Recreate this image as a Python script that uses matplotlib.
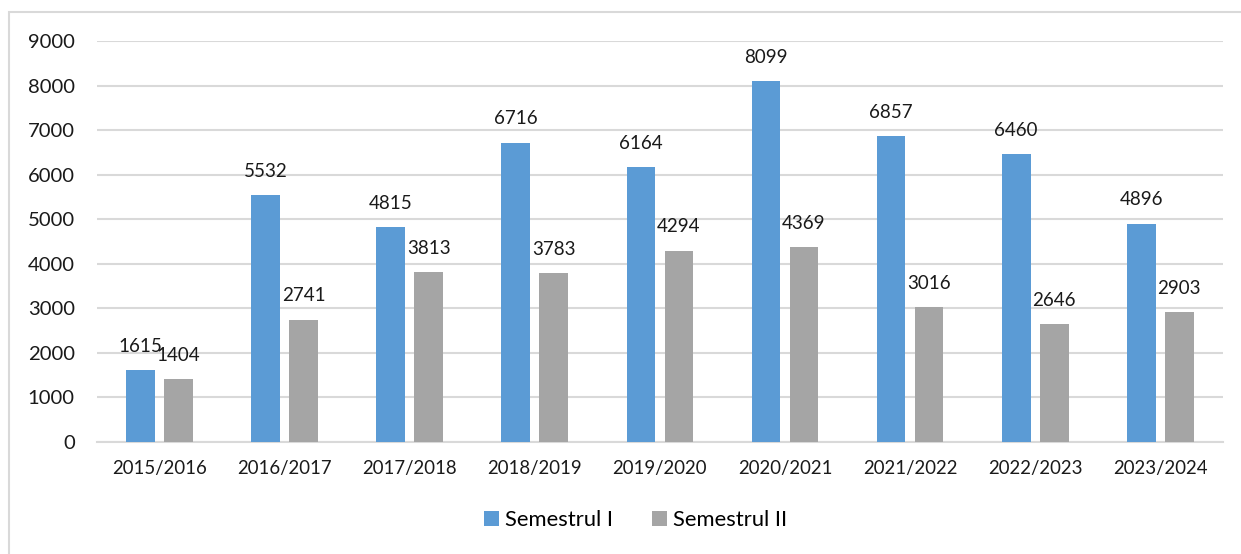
import matplotlib.pyplot as plt
import numpy as np
from matplotlib.patches import Rectangle

#Chart data
years = ['2015/2016', '2016/2017', '2017/2018', '2018/2019', '2019/2020',
         '2020/2021', '2021/2022', '2022/2023', '2023/2024']
sem1 = [1615, 5532, 4815, 6716, 6164, 8099, 6857, 6460, 4896]
sem2 = [1404, 2741, 3813, 3783, 4294, 4369, 3016, 2646, 2903]
yticks = [0, 1000, 2000, 3000, 4000, 5000, 6000, 7000, 8000, 9000]

plt.rcParams['font.family'] = ['Lato', 'DejaVu Sans']

fig = plt.figure(figsize=(12.41, 5.54), dpi=100)
ax = fig.add_axes([0.0782, 0.2027, 0.9071, 0.7233])

#outer chart frame (right and bottom run off the image)
fig.patches.append(Rectangle((9/1241, -0.1), 1.2, 1 - 12/554 + 0.1,
                             transform=fig.transFigure, fill=False,
                             edgecolor='#D9D9D9', linewidth=1.5))

x = np.arange(len(years))
w = 0.23
off = 0.152
b1 = ax.bar(x - off, sem1, w, color='#5B9BD5', label='Semestrul I', zorder=3)
b2 = ax.bar(x + off, sem2, w, color='#A5A5A5', label='Semestrul II', zorder=3)

for bars in (b1, b2):
    for r in bars:
        ax.annotate(str(int(r.get_height())), (r.get_x() + r.get_width() / 2, r.get_height()),
                    xytext=(0, 11), textcoords='offset points', ha='center', va='bottom',
                    fontsize=13.5, color='#1a1a1a')

ax.set_xlim(-0.5, len(years) - 0.5)
ax.set_ylim(0, 9000)
ax.set_yticks(yticks)
ax.set_xticks(x)
ax.set_xticklabels(years)
ax.grid(axis='y', color='#D9D9D9', linewidth=1.5, zorder=0)
for s in ['top', 'right', 'left']:
    ax.spines[s].set_visible(False)
ax.spines['bottom'].set_color('#D9D9D9')
ax.spines['bottom'].set_linewidth(1.5)
ax.tick_params(axis='both', length=0, colors='#1a1a1a')
ax.tick_params(axis='y', labelsize=14.6, pad=16)
ax.tick_params(axis='x', labelsize=13.4, pad=13)

fig.legend(loc='center', bbox_to_anchor=(0.512, 0.061), ncol=2, frameon=False,
           fontsize=15.8, handlelength=0.7, handleheight=0.7, handletextpad=0.25,
           columnspacing=1.8)

fig.savefig('out.png', dpi=100)
